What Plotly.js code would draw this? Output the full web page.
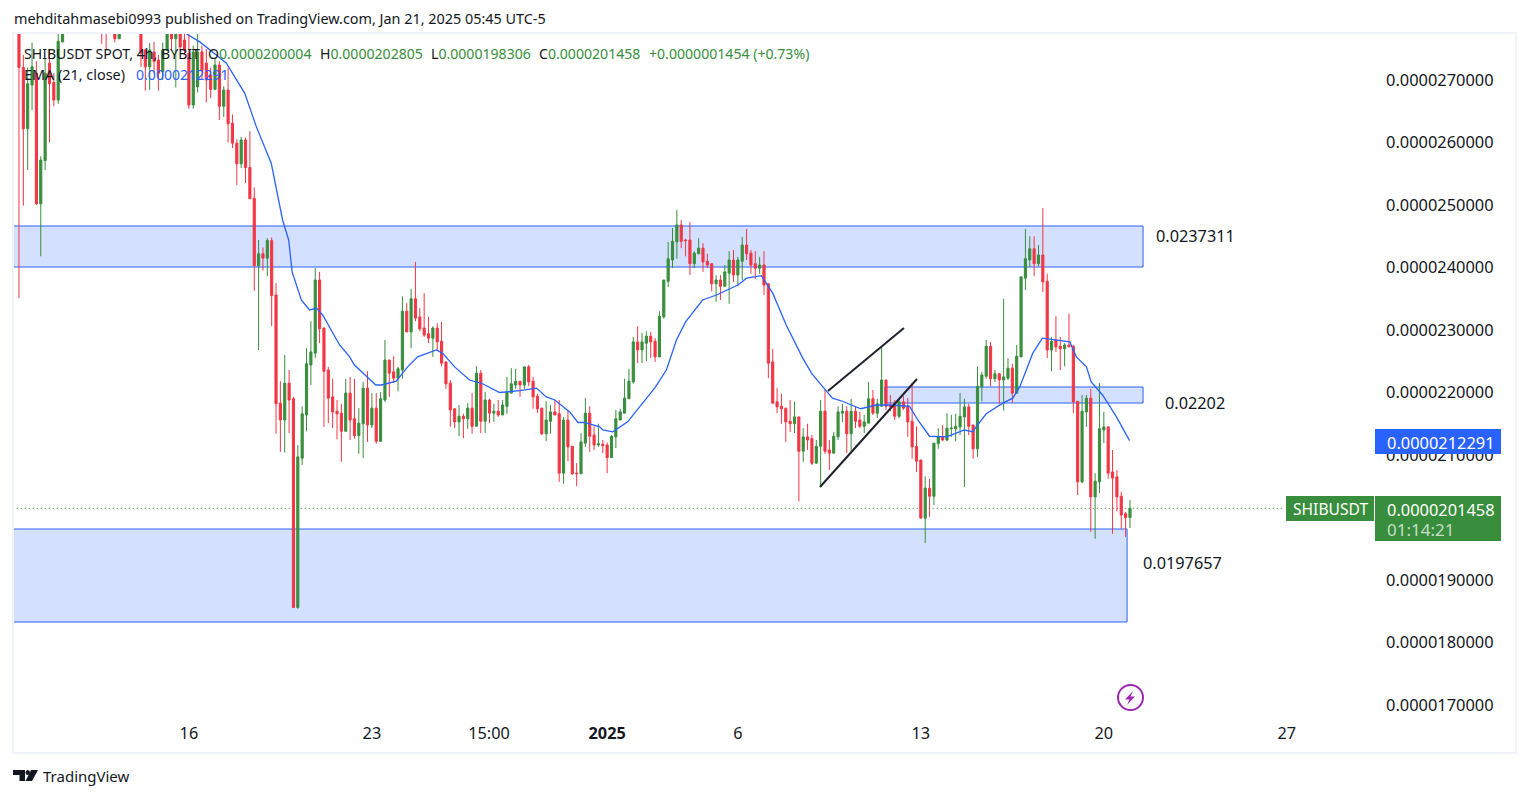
<!DOCTYPE html>
<html><head><meta charset="utf-8">
<script src="https://cdn.plot.ly/plotly-3.0.1.min.js"></script>
<style>html,body{margin:0;padding:0;background:#fff;overflow:hidden}#c{width:1529px;height:798px}</style>
</head><body><div id="c"></div>
<script>
// Prices are in units of 1e-7 USDT. Bars are 4h; null = bar lies above the visible window.
const UNIT = 1e-7;
const LAST_BAR = Date.UTC(2025,0,21);
const BAR_MS = 4*3600*1000;
const N = (a)=>Array(a).fill(null);

const open = [279,272,262.2,269.2,271.1,250.2,257.1,272.7,269.6,266.8,276.1,
 ...N(8),280,280,null,279,276.6,...N(4),
 279,274.8,272.1,274.5,273.2,271.3,274.8,279,276.6,279,276.4,274.3,266,268.9,274.5,272.7,270.8,268.5,272.4,265.8,268.4,263.1,259.9,256.6,260.4,256,251.1,240.3,242.2,241.5,244.3,
 235.6,218.3,215.6,221.5,219,185.6,209.5,216.4,224.4,226.3,
 238,230.3,223.6,219.3,217,216.7,213.8,219.9,215.8,213.1,
 215,220.7,214.8,217.5,212.2,218.8,225.2,223.3,222.3,223.6,
 233,229.7,235,232.1,230.3,229.4,228.7,230.3,228.2,224.9,
 221.5,217.4,215.3,216.2,215.8,217.5,214.6,223.1,215.4,218.8,
 216.7,217,216.4,217.8,219.9,221.2,221.8,221.2,224.1,221.8,
 219.4,217.5,213.4,215.4,216.9,216.6,207.1,215.6,211.4,207.1,
 207,211.9,216.7,213.2,211.6,
 211.7,211.6,209.6,212.9,215.6,216.7,219,221.7,228.1,226.8,
 227.9,229,228.2,225.7,232.1,237.8,241.2,244.1,246.8,244.4,
 244.4,240.6,242.2,243.1,241,240.6,237.4,238,237,239.1,
 241.2,238.8,241,243.6,242.3,240.6,239.9,240.4,237.4,224.9,
 218.5,217.8,217.5,215.4,
 215,216.1,210.6,212.9,212.6,208.7,211.4,217,210.8,210.3,
 212.9,216.7,217,213.4,217,215.6,214.6,215.1,219,216.7,
 217.8,222,218,218.2,216.2,218.5,217.7,215.4,211.4,209.2,
 199.9,204.7,203.4,211.8,212.9,212.4,214.2,214.2,214.5,216.1,
 217.7,214.8,
 211,220.9,222.6,227.4,222.2,223,222,222.3,223.9,219.9,
 225.7,238.3,241.2,243,240.6,242,237.8,226.8,228.4,227.4,
 227,227.6,227.4,218.6,205.7,216.9,219.1,203.3,205.7,214,
 214.5,207.3,206.5,203.4,200.6,200.004];

const high = [279,274,272,276,273,257.8,273.5,275,271.1,279,279,
 ...N(8),280,280,null,280,280,...N(4),
 280,275,275.9,276.1,274,276,279,279,279,279,277.4,277.4,275.5,279,275.5,275,272,273.5,273,269,271.9,264.5,260.5,260.9,260.8,261.8,252.8,244.4,243.2,244.7,244.8,
 237.5,221.8,226,223.6,219.3,211.6,217.8,227.1,231.4,239.9,
 239.3,230.4,224.1,222.2,218.8,218.2,222.2,222.5,222.2,217.5,
 221.7,223.4,219.9,219.9,220.1,228.4,225.2,225.8,224.1,235.4,
 234.3,236.6,240.9,233.5,235.9,232.1,230.6,231.1,231.3,224.9,
 222,217.4,218,216.6,218.3,219.9,224.2,223.6,220.1,219,
 218.2,218.8,218.8,222.5,223.9,223.8,221.8,224.2,224.4,222.5,
 219.8,217.5,218.6,218,218.8,218.8,216.1,217,211.4,208.7,
 213.5,219.1,217.8,214.6,215,
 212.4,212,213.2,217.2,217.4,222.2,223.8,228.9,230.6,229.5,
 229.8,229.7,228.7,233,238,244.1,246.3,249.2,247.6,244.6,
 247.3,242.6,244.7,243.9,242.2,240.7,238.8,238.8,240.4,242.6,
 242.8,241.7,244.9,246.2,242.8,242.6,241.7,242.6,237.4,227,
 220.7,219.8,217.5,218.8,
 218.5,216.1,214.3,215,213.2,212.4,218.8,220.4,212.4,213.7,
 217.8,218.2,217.8,219,217.8,216.9,216.4,221.7,220.4,219,
 227.3,222,219.6,218.8,219.1,219.4,219.1,221.5,214.6,209.2,
 206.6,206.2,211.9,214.3,214.8,216.7,216.4,216.6,219.9,219,
 218.2,214.8,
 224.2,223.3,228.4,228.1,223.6,223.1,235,225.5,224.6,227.6,
 238.6,246.2,245,245,243.6,249.5,239,228.9,232.2,228.9,
 227.9,232.6,227.6,218.6,219.6,219.6,220.6,207.1,221.5,216.9,
 214.6,210.8,207.6,204.1,200.9,202.805];

const low = [235.1,249.9,255.6,265.2,250,241.8,255.6,260,265.8,266.2,276,
 ...N(8),275.8,274.8,null,276,276.6,...N(4),
 272.1,268.3,268.4,271,268.3,270,274.8,274.8,268.8,274.8,274,265.4,265.4,268,270,266.4,267.1,268.4,263.6,264.1,260,259.1,253.2,255.9,253.5,251,236.3,226.8,239.5,238.6,230.6,
 213.4,210.5,210.4,213.5,185.5,185.4,208.4,213.8,221.2,225.5,
 227.9,214.5,215.1,214.3,212.5,208.9,213.8,212.4,212.6,210.2,
 209.5,212.1,214.3,211.8,212.1,218.5,219.3,221.5,220.2,222.2,
 229.7,227.1,231.4,229.8,228.9,227.9,225.7,226.8,224.2,220.6,
 214.5,214.3,213,212.7,214.2,213.4,214.6,213.5,213.5,215.1,
 215.3,216.1,216.4,216.6,219.9,220.6,219.3,220.6,221,217.4,
 216.7,213.2,212.2,213.4,216.4,205.7,205.4,209,206.8,205,
 207,211.3,210.5,210.8,211.3,
 210.3,207.1,209.6,211.1,215.6,216.7,219,221.4,224.7,224.7,
 225,225.5,224.9,225.7,231.8,236.9,239.9,241.4,243.1,241.8,
 238.8,239.9,242.2,239.3,239.9,236.2,234.5,234.8,237,234.2,
 237.7,237,238,241.2,239,238.2,239,235.6,222.3,218.2,
 216.7,215,212.1,213.7,
 213.5,202.6,208.9,210.8,208.4,208.6,204.9,210.2,207.6,210.3,
 212.4,215.3,210.3,210.3,214.3,214.3,213.5,215.1,216.4,215.9,
 217.8,217.2,217,215.6,215.9,217.2,212.9,209.4,207.3,199.9,
 195.9,200.1,202,211,212.2,212.2,212.9,212.2,213.2,204.9,
 213.2,209.4,
 209.7,218.6,222.2,221,221.7,218.2,217.1,222,218.3,219.8,
 225.7,236.4,240.1,238.6,240.2,236.1,225.5,223.4,226.5,223.6,
 224.2,227.3,216.7,203.6,205.5,214.5,197.7,196.6,203.9,211.9,
 206.2,197.4,201,198.2,196.9,198.306];

const close = [272,262.2,269.4,272.1,250.2,257.2,271.1,269.4,266.8,276.2,279,
 ...N(8),278,278,null,276.6,279,...N(4),
 274.3,272.1,274.8,273,271.1,274.8,279,276.6,279,275.3,274.8,266,274.5,274.5,271.5,270,268.5,272.4,265.8,268.4,263,259.9,256.6,260.4,256,251,240.3,242.2,241.5,244.3,235.5,
 218.2,215.6,221.5,218.8,185.6,209.7,216.6,224.6,226.5,238,
 230.2,223.4,219.1,216.9,216.6,213.8,219.9,215.6,213.1,215.1,
 220.7,214.8,217.5,212.2,219,225.2,223.1,222.3,223.8,233,
 229.7,235,231.9,230.2,229.2,228.7,230.3,228.1,224.7,221.4,
 217.2,215.3,216.2,215.8,217.5,214.6,223.1,215.4,218.8,216.7,
 217,216.4,218,220.1,221.4,221.8,221.2,224.1,221.7,219.3,
 217.4,213.4,215.6,216.9,216.4,207.1,215.6,211.3,207,207,
 212.1,216.7,213,211.6,211.8,
 211.5,209.6,213,215.8,216.9,219.1,221.8,228.1,226.8,228.1,
 229,228.1,225.7,232.2,238,241.4,244.2,246.8,244.2,244.3,
 240.6,242.3,243.1,240.9,240.4,237.4,238,237,239.3,241.2,
 238.8,241.2,243.6,242.2,240.4,239.9,240.4,237.2,224.7,218.3,
 217.7,217.4,215.3,215,
 216.1,210.6,212.9,212.4,208.7,211.4,217,210.6,210.3,213,
 216.9,217,213.4,217,215.4,214.6,215.3,219,216.7,218.2,
 222,217.8,217.7,216.2,218.5,217.5,215.3,211.3,209,199.9,
 204.7,203.4,211.9,212.9,212.4,214.3,214.3,214.6,216.2,217.7,
 214.6,211,
 221,222.8,227.4,222.2,223,222,222.5,223.9,219.9,225.8,
 238.5,241.4,243,240.6,242,237.7,226.8,228.2,227.3,227,
 227.6,227.3,218.5,205.7,217,219.1,203.3,205.8,214.2,214.5,
 207.1,206.3,203.3,200.4,200,201.458];

// EMA(21) vertices: bar position and value
const emaBar = [38.4,41.5,45.3,47.6,51.8,54.5,57.9,60.5,61.9,62.7,64.8,66.7,68.3,69.7,73.6,75.9,77,80,81.9,83.2,86.6,89.2,91.5,95.8,97.2,100,103.4,106.4,110.3,115,118.8,121,123,126.4,128.3,129.8,133.3,134,136.3,139.7,142.5,145.9,148.6,150.9,153,156.9,160.1,165,167,170.4,173,176.1,179.9,181.9,184.5,186.7,189,193.2,196.8,199.8,204.4,206.3,209,212.9,217,218.9,219.7,222,225.8,228.1,229.7,232.7,234.9,241.2,242.7,245,246.1,248.7,251.9,254.9];
const emaVal = [277.4,276.1,274,272.7,267.9,262.5,256.7,247.6,244.4,239.3,234.8,233.2,233.5,232.4,227.6,225.7,224.4,222.5,221.2,221.2,221.8,224.1,225.7,226.8,226.3,224.1,222,221.4,220,220.3,220.7,219.3,218.8,216.9,215.2,215.2,214.5,214,213.7,215.3,217.7,220.7,223.6,228.4,231.3,234.8,235.6,237.2,238.3,238.7,235.9,230.8,225.5,223.1,220.9,219.1,218.6,217.4,218,218,217.8,215.6,213,212.9,214,213.7,214.5,216.6,218.3,219.1,220.9,226.3,228.7,228.1,225.7,224.1,221.7,219.6,216.1,212.291];

const yTicks = [170,180,190,200,210,220,230,240,250,260,270];
const xTickVals = ['2024-12-16','2024-12-23','2024-12-27 11:30','2025-01-01','2025-01-06','2025-01-13','2025-01-20','2025-01-27'];
const xTickText = ['16','23','15:00','<b>2025</b>','6','13','20','27'];

// Zones: price bounds and time bounds
const zoneTop = {hi:246.64, lo:240.08, t0:'2024-12-01', t1:'2025-01-21 12:00'};
const zoneMid = {hi:220.88, lo:218.32, t0:'2025-01-11 15:00', t1:'2025-01-21 12:00'};
const zoneLow = {hi:198.16, lo:183.28, t0:'2024-12-01', t1:'2025-01-20 21:20'};
const trendA = {t0:'2025-01-09 10:44', p0:220.24, t1:'2025-01-12 08:30', p1:230.32};
const trendB = {t0:'2025-01-09 03:23', p0:204.88, t1:'2025-01-12 20:27', p1:222.16};
const lastPrice = 201.458, emaLast = 212.291;

const t = i => new Date(LAST_BAR-(255-i)*BAR_MS).toISOString();
const times = open.map((_,i)=>t(i));
const P = a => a.map(v=>v===null?null:v*UNIT);
const GREEN='#388e3c', RED='#f23645', BLUE='#2962ff', INK='#131722';
const FONT='"Noto Sans", sans-serif';

const L=14,R=1375,T=34,B=720;
const fx=x=>(x-L)/(R-L), fy=y=>(B-y)/(B-T);
const pxRect=(x0,y0,x1,y1,fill,extra)=>Object.assign({type:'rect',xref:'paper',yref:'paper',x0:fx(x0),x1:fx(x1),y0:fy(y0),y1:fy(y1),fillcolor:fill,line:{width:0},layer:'above'},extra||{});
const pxPath=(pts,fill)=>({type:'path',xref:'paper',yref:'paper',path:'M'+pts.map(p=>fx(p[0])+','+fy(p[1])).join(' L')+' Z',fillcolor:fill,line:{width:0},layer:'above'});
const zone=z=>({type:'rect',xref:'x',yref:'y',x0:z.t0,x1:z.t1,y0:z.lo*UNIT,y1:z.hi*UNIT,fillcolor:'rgba(41,98,255,0.2)',line:{color:BLUE,width:1},layer:'below'});
const trend=s=>({type:'line',xref:'x',yref:'y',x0:s.t0,x1:s.t1,y0:s.p0*UNIT,y1:s.p1*UNIT,line:{color:'#1e222d',width:2},layer:'above'});
const txt=(x,y,text,color,size,anchor,extra)=>Object.assign({xref:'paper',yref:'paper',x:fx(x),y:fy(y),text,showarrow:false,xanchor:anchor||'left',yanchor:'middle',font:{family:FONT,size:size||14,color:color||INK},align:'left',borderpad:0,captureevents:false},extra||{});

const shapes=[
 pxRect(13,33,1516,753,'rgba(0,0,0,0)',{line:{color:'#f0f3fa',width:2},layer:'below'}),
 zone(zoneTop),zone(zoneMid),zone(zoneLow),trend(trendA),trend(trendB),
 {type:'line',xref:'x',yref:'y',x0:'2024-12-01',x1:'2025-01-26 22:00',y0:lastPrice*UNIT,y1:lastPrice*UNIT,line:{color:GREEN,width:1,dash:'1px,3px'},layer:'below'},
 pxRect(1375,429,1501,454,BLUE),
 pxRect(1286,496,1374,521,GREEN),
 pxRect(1375,496,1501,541,GREEN),
 {type:'circle',xref:'paper',yref:'paper',x0:fx(1118),x1:fx(1143),y0:fy(710),y1:fy(685),line:{color:'#9c27b0',width:2},fillcolor:'rgba(0,0,0,0)',layer:'above'},
 pxPath([[1133,691],[1125,699.5],[1129.5,699.5],[1127,705],[1135,696.5],[1130.5,696.5]],'#9c27b0'),
 pxPath([[13,770],[25,770],[25,781],[19.5,781],[19.5,775],[13,775]],INK),
 pxPath([[31,770],[38,770],[32,781],[25.5,781]],INK),
 {type:'circle',xref:'paper',yref:'paper',x0:fx(25.5),x1:fx(30),y0:fy(775),y1:fy(770),fillcolor:INK,line:{width:0},layer:'above'}
];

const annotations=[
 txt(13,19,'mehditahmasebi0993 published on TradingView.com, Jan 21, 2025 05:45 UTC-5',INK,14.4),
 txt(23,54,'SHIBUSDT SPOT, 4h, BYBIT',INK,14.1),
 txt(207,54,'O<span style="color:'+GREEN+'">0.0000200004</span>',INK,14.1),
 txt(319,54,'H<span style="color:'+GREEN+'">0.0000202805</span>',INK,14.1),
 txt(430,54,'L<span style="color:'+GREEN+'">0.0000198306</span>',INK,14.1),
 txt(538,54,'C<span style="color:'+GREEN+'">0.0000201458</span>',INK,14.1),
 txt(648,54,'+0.0000001454 (+0.73%)',GREEN,14.1),
 txt(23,74.5,'EMA (21, close)',INK,14.4),
 txt(135,74.5,'0.0000212291',BLUE,14.1),
 txt(1155,236,'0.0237311',INK,16.3),
 txt(1164,403,'0.02202',INK,16.3),
 txt(1142,563,'0.0197657',INK,16.3),
 txt(1386,442,'0.0000212291','#ffffff',16.4),
 txt(1292,509,'SHIBUSDT','#ffffff',15.6),
 txt(1386,509,'0.0000201458','#ffffff',16.4),
 txt(1386,529,'01:14:21','rgba(255,255,255,0.72)',17),
 txt(42,776,'TradingView',INK,15)
];

Plotly.newPlot('c',[
 {type:'candlestick',x:times,open:P(open),high:P(high),low:P(low),close:P(close),
  increasing:{line:{color:GREEN,width:1},fillcolor:GREEN},
  decreasing:{line:{color:RED,width:1},fillcolor:RED},
  whiskerwidth:0,width:BAR_MS*0.46,hoverinfo:'skip',showlegend:false},
 {type:'scatter',mode:'lines',x:emaBar.map(t),y:P(emaVal),line:{color:BLUE,width:1.3},hoverinfo:'skip',showlegend:false}
],{
 width:1529,height:798,autosize:false,showlegend:false,
 paper_bgcolor:'#ffffff',plot_bgcolor:'#ffffff',
 margin:{l:L,r:1529-R,t:T,b:798-B,pad:0},
 font:{family:FONT,color:INK,size:16},
 xaxis:{type:'date',range:['2024-12-09 07:26','2025-01-30 08:57'],rangeslider:{visible:false},
  showgrid:false,zeroline:false,showline:false,ticks:'',tickmode:'array',tickvals:xTickVals,ticktext:xTickText,
  tickfont:{family:FONT,size:16.3,color:INK},ticklabelstandoff:2,tickangle:0},
 yaxis:{side:'right',range:[167.6*UNIT,277.36*UNIT],showgrid:false,zeroline:false,showline:false,ticks:'',
  tickmode:'array',tickvals:yTicks.map(v=>v*UNIT),ticktext:yTicks.map(v=>(v*UNIT).toFixed(10)),
  tickfont:{family:FONT,size:16.4,color:INK},ticklabelstandoff:10},
 shapes,annotations
},{staticPlot:true,displayModeBar:false});
</script></body></html>
